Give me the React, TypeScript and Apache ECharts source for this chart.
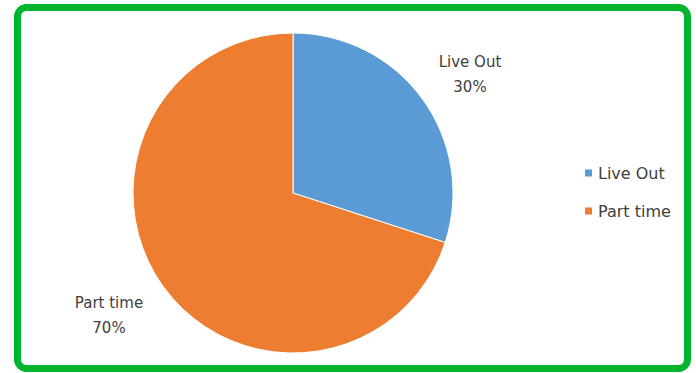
import React, { useEffect, useRef } from "react";
import * as echarts from "echarts";

const categories = ["Live Out", "Part time"];
const values = [30, 70];
const colors = ["#5b9bd5", "#ed7d31"];
const labelSpots = [
  [470, 74],
  [109, 315],
];

export default function App() {
  const ref = useRef<HTMLDivElement>(null);
  useEffect(() => {
    if (!ref.current) return;
    const chart = echarts.init(ref.current, null, { renderer: "svg" });
    chart.setOption({
      animation: false,
      backgroundColor: "#ffffff",
      color: colors,
      textStyle: { fontFamily: "DejaVu Sans" },
      graphic: [
        {
          type: "rect",
          shape: { x: 17.5, y: 7.5, width: 670, height: 361, r: 9 },
          style: { fill: "none", stroke: "#00b52e", lineWidth: 7 },
          z: 100,
        },
      ],
      legend: {
        orient: "vertical",
        left: 583,
        top: 164,
        padding: 0,
        itemWidth: 9,
        itemHeight: 9,
        itemGap: 20,
        icon: "rect",
        data: categories,
        textStyle: {
          fontFamily: "DejaVu Sans",
          fontSize: 16,
          lineHeight: 18,
          color: "#404040",
        },
      },
      series: [
        {
          type: "pie",
          center: [293, 193],
          radius: 160,
          startAngle: 90,
          clockwise: true,
          data: categories.map((name, i) => ({ name, value: values[i] })),
          itemStyle: { borderColor: "#ffffff", borderWidth: 1 },
          label: {
            show: true,
            position: "outside",
            formatter: "{b}\n{d}%",
            fontFamily: "DejaVu Sans",
            fontSize: 15,
            lineHeight: 25,
            color: "#404040",
            align: "center",
          },
          labelLine: { show: false },
          labelLayout: (params: any) => ({
            x: labelSpots[params.dataIndex][0],
            y: labelSpots[params.dataIndex][1],
            align: "center",
            verticalAlign: "middle",
          }),
          emphasis: { disabled: true },
        },
      ],
    });
    return () => chart.dispose();
  }, []);
  return (
    <div
      ref={ref}
      style={{ position: "absolute", left: 0, top: 0, width: 696, height: 373 }}
    />
  );
}
